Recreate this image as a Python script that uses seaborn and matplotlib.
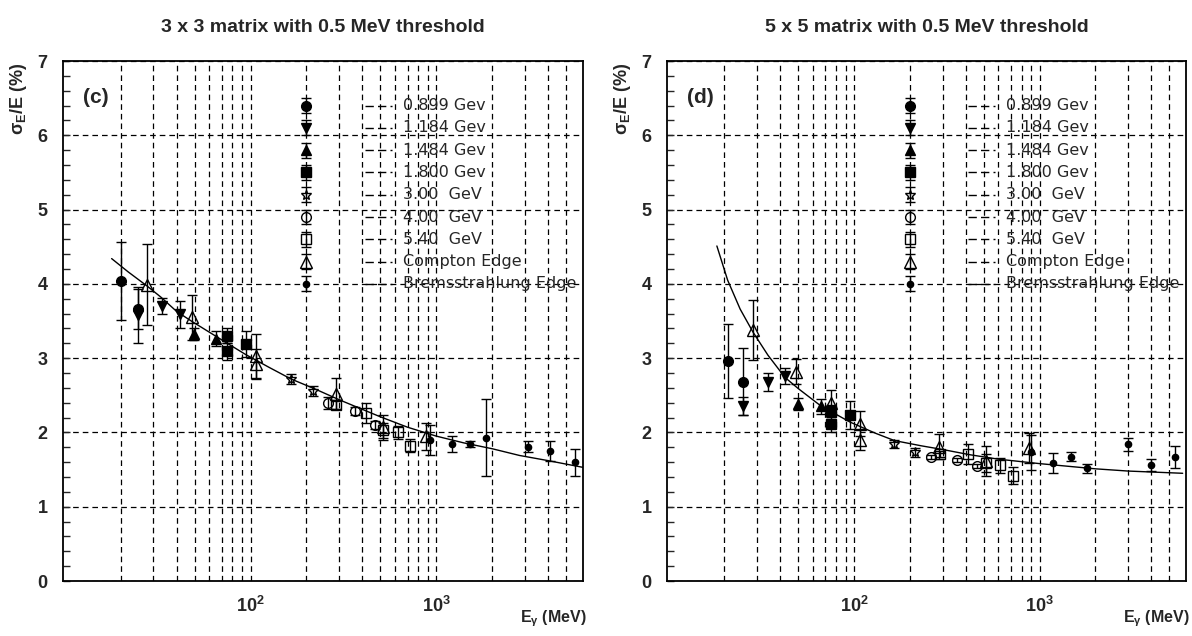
import numpy as np
import pandas as pd
import matplotlib
matplotlib.use("Agg")
import matplotlib.pyplot as plt
import seaborn as sns
from matplotlib.ticker import FixedLocator, FixedFormatter, MultipleLocator, NullFormatter

# ---------------- data ----------------
titles = ["3 x 3 matrix with 0.5 MeV threshold", "5 x 5 matrix with 0.5 MeV threshold"]
panel_tags = ["(c)", "(d)"]
legend_labels = ["0.899 Gev", "1.184 Gev", "1.484 Gev", "1.800 Gev", "3.00  GeV",
                 "4.00  GeV", "5.40  GeV", "Compton Edge", "Bremsstrahlung Edge"]
legend_marker_E = 200
legend_marker_y = [6.4, 6.1, 5.8, 5.5, 5.2, 4.9, 4.6, 4.3, 4.0]
legend_marker_err = 0.1

# 3x3 panel
c_899_E = [20.1, 24.7];            c_899_v = [4.04, 3.66];          c_899_e = [0.52, 0.27]
c_1184_E = [24.7, 33.6, 41.7];     c_1184_v = [3.58, 3.70, 3.59];   c_1184_e = [0.38, 0.11, 0.18]
c_1484_E = [49.5, 65.6];           c_1484_v = [3.32, 3.26];         c_1484_e = [0.08, 0.10]
c_1800_E = [74.3, 74.3, 94.0];     c_1800_v = [3.30, 3.09, 3.19];   c_1800_e = [0.10, 0.12, 0.17]
c_3000_E = [165, 217];             c_3000_v = [2.72, 2.56];         c_3000_e = [0.07, 0.07]
c_4000_E = [261, 364, 466];        c_4000_v = [2.40, 2.29, 2.10];   c_4000_e = [0.08, 0.05, 0.05]
c_5400_E = [290, 417, 516, 622, 718]
c_5400_v = [2.37, 2.26, 2.03, 2.00, 1.82]
c_5400_e = [0.05, 0.13, 0.10, 0.09, 0.09]
c_comp_E = [27.8, 48.2, 107.7, 107.7, 289, 516, 883]
c_comp_v = [3.99, 3.55, 3.03, 2.92, 2.52, 2.07, 1.95]
c_comp_e = [0.54, 0.30, 0.30, 0.20, 0.21, 0.17, 0.18]
c_brem_E = [920, 1213, 1524, 1841, 3110, 4100, 5560]
c_brem_v = [1.90, 1.84, 1.84, 1.93, 1.81, 1.75, 1.60]
c_brem_e = [0.20, 0.11, 0.04, 0.52, 0.08, 0.13, 0.18]
c_fit_E = [17.9, 22, 27.8, 33, 40, 48, 60, 75, 94, 125, 165, 220, 300, 400, 500,
           700, 1000, 1400, 2000, 2800, 4000, 6140]
c_fit_v = [4.34, 4.16, 3.97, 3.82, 3.63, 3.50, 3.35, 3.20, 3.05, 2.88, 2.72, 2.59,
           2.44, 2.31, 2.21, 2.07, 1.95, 1.86, 1.78, 1.69, 1.62, 1.53]

# 5x5 panel
d_899_E = [20.8, 25.3];            d_899_v = [2.96, 2.68];          d_899_e = [0.50, 0.45]
d_1184_E = [25.3, 34.3, 42.4];     d_1184_v = [2.36, 2.68, 2.76];   d_1184_e = [0.12, 0.12, 0.11]
d_1484_E = [50.0, 65.9];           d_1484_v = [2.38, 2.35];         d_1484_e = [0.08, 0.10]
d_1800_E = [75.0, 75.0, 94.9];     d_1800_v = [2.29, 2.11, 2.23];   d_1800_e = [0.08, 0.10, 0.19]
d_3000_E = [165, 213];             d_3000_v = [1.845, 1.73];        d_3000_e = [0.05, 0.065]
d_4000_E = [261, 360, 460];        d_4000_v = [1.67, 1.63, 1.55];   d_4000_e = [0.03, 0.03, 0.03]
d_5400_E = [289, 412, 512, 612, 714]
d_5400_v = [1.71, 1.71, 1.59, 1.56, 1.42]
d_5400_e = [0.04, 0.14, 0.12, 0.10, 0.11]
d_comp_E = [28.5, 48.6, 75.2, 107.6, 107.6, 287, 512, 877]
d_comp_v = [3.38, 2.82, 2.40, 2.12, 1.90, 1.81, 1.62, 1.79]
d_comp_e = [0.40, 0.17, 0.17, 0.17, 0.14, 0.17, 0.20, 0.20]
d_brem_E = [902, 1181, 1478, 1790, 2985, 3975, 5360]
d_brem_v = [1.73, 1.59, 1.67, 1.52, 1.84, 1.56, 1.67]
d_brem_e = [0.24, 0.13, 0.06, 0.06, 0.09, 0.08, 0.15]
d_fit_E = [18.2, 20.8, 24.3, 28.5, 34.3, 42.4, 50, 65.9, 94.9, 130, 165, 230, 300,
           420, 600, 1000, 2000, 3000, 5900]
d_fit_v = [4.51, 4.05, 3.66, 3.35, 3.04, 2.74, 2.59, 2.36, 2.14, 1.99, 1.89, 1.82,
           1.77, 1.70, 1.64, 1.58, 1.51, 1.48, 1.45]

# ---------------- styles ----------------
marker_styles = [
    dict(marker="o", ms=7, mfc="black"),
    dict(marker="v", ms=7.5, mfc="black"),
    dict(marker="^", ms=7.5, mfc="black"),
    dict(marker="s", ms=6.5, mfc="black"),
    dict(marker="*", ms=7, mfc="none"),
    dict(marker="o", ms=7, mfc="none"),
    dict(marker="s", ms=6.5, mfc="none"),
    dict(marker="^", ms=8, mfc="none"),
    dict(marker="o", ms=4.5, mfc="black"),
]

panels = [
    dict(series=[(c_899_E, c_899_v, c_899_e), (c_1184_E, c_1184_v, c_1184_e),
                 (c_1484_E, c_1484_v, c_1484_e), (c_1800_E, c_1800_v, c_1800_e),
                 (c_3000_E, c_3000_v, c_3000_e), (c_4000_E, c_4000_v, c_4000_e),
                 (c_5400_E, c_5400_v, c_5400_e), (c_comp_E, c_comp_v, c_comp_e),
                 (c_brem_E, c_brem_v, c_brem_e)],
         fit=(c_fit_E, c_fit_v)),
    dict(series=[(d_899_E, d_899_v, d_899_e), (d_1184_E, d_1184_v, d_1184_e),
                 (d_1484_E, d_1484_v, d_1484_e), (d_1800_E, d_1800_v, d_1800_e),
                 (d_3000_E, d_3000_v, d_3000_e), (d_4000_E, d_4000_v, d_4000_e),
                 (d_5400_E, d_5400_v, d_5400_e), (d_comp_E, d_comp_v, d_comp_e),
                 (d_brem_E, d_brem_v, d_brem_e)],
         fit=(d_fit_E, d_fit_v)),
]

sns.set_theme(style="white")
plt.rcParams.update({
    "font.family": ["Liberation Sans", "DejaVu Sans"],
    "mathtext.fontset": "custom",
    "mathtext.rm": "Liberation Sans",
    "mathtext.bf": "Liberation Sans:bold",
    "mathtext.it": "Liberation Sans:italic",
    "mathtext.default": "bf",
})

W, H = 1192, 636
fig = plt.figure(figsize=(W / 100, H / 100), dpi=100)
ax_rects = [[63 / W, 55 / H, 520 / W, 520 / H], [667 / W, 55 / H, 519 / W, 520 / H]]

grid_ls = (0, (4.5, 3.2))
minor_x = [20, 30, 40, 50, 60, 70, 80, 90, 200, 300, 400, 500, 600, 700, 800, 900,
           2000, 3000, 4000, 5000]

for k, (rect, pan) in enumerate(zip(ax_rects, panels)):
    ax = fig.add_axes(rect)
    ax.set_xscale("log")
    ax.set_xlim(9.8, 6150)
    ax.set_ylim(0, 7)

    # grid
    ax.xaxis.set_major_locator(FixedLocator([100, 1000]))
    ax.xaxis.set_major_formatter(FixedFormatter([r"$10^{2}$", r"$10^{3}$"]))
    ax.xaxis.set_minor_locator(FixedLocator(minor_x))
    ax.xaxis.set_minor_formatter(NullFormatter())
    ax.yaxis.set_major_locator(MultipleLocator(1))
    ax.yaxis.set_minor_locator(MultipleLocator(0.2))
    ax.grid(True, which="both", axis="x", color="black", lw=0.9, ls=grid_ls)
    ax.grid(True, which="major", axis="y", color="black", lw=0.9, ls=grid_ls)
    ax.set_axisbelow(True)

    ax.tick_params(axis="x", which="both", length=0, pad=11, labelsize=13)
    ax.tick_params(axis="y", which="both", direction="in", length=5, width=1,
                   pad=11, labelsize=13, left=True, right=False)
    for lab in ax.get_yticklabels() + ax.get_xticklabels():
        lab.set_fontweight("bold")
    for sp in ax.spines.values():
        sp.set_visible(True)
        sp.set_color("black")
        sp.set_linewidth(1.3)

    # fit curve
    fe, fv = pan["fit"]
    sns.lineplot(x=fe, y=fv, ax=ax, color="black", lw=1.0, sort=True,
                 estimator=None, zorder=3)

    # data with error bars
    for (E, v, e), st in zip(pan["series"], marker_styles):
        ax.errorbar(E, v, yerr=e, fmt="none", ecolor="black", elinewidth=1,
                    capsize=3.5, capthick=1, zorder=4)
        ax.plot(E, v, ls="none", marker=st["marker"], ms=st["ms"],
                mfc=st["mfc"], mec="black", mew=1, zorder=5)

    # hand-made legend (markers at 200 MeV, lines, labels)
    for lab, y, st in zip(legend_labels, legend_marker_y, marker_styles):
        ax.errorbar([legend_marker_E], [y], yerr=legend_marker_err, fmt="none",
                    ecolor="black", elinewidth=1, capsize=3.5, capthick=1, zorder=4)
        ax.plot([legend_marker_E], [y], ls="none", marker=st["marker"], ms=st["ms"],
                mfc=st["mfc"], mec="black", mew=1, zorder=5)
        ax.plot([411, 574], [y, y], color="black", lw=1.0, ls=(0, (6, 3)), zorder=4)
        ax.text(659, y, lab, ha="left", va="center", fontsize=11.5,
                family="DejaVu Sans", zorder=6)

    ax.set_xlabel("")
    ax.set_ylabel("")
    ax.text(0.038, 0.93, panel_tags[k], transform=ax.transAxes, ha="left",
            va="center", fontsize=15, fontweight="bold")
    ax.text(-0.085, 0.997, r"σ$_{E}$/E (%)", transform=ax.transAxes, rotation=90,
            ha="center", va="top", fontsize=13, fontweight="bold")
    ax.text(1.008, -0.073, r"E$_{\gamma}$ (MeV)", transform=ax.transAxes,
            ha="right", va="center", fontsize=11.5, fontweight="bold")

    cx = (rect[0] + rect[2] / 2)
    fig.text(cx, 1 - 27 / H, titles[k], ha="center", va="center", fontsize=14,
             fontweight="bold")

fig.savefig("out.png", dpi=100)
